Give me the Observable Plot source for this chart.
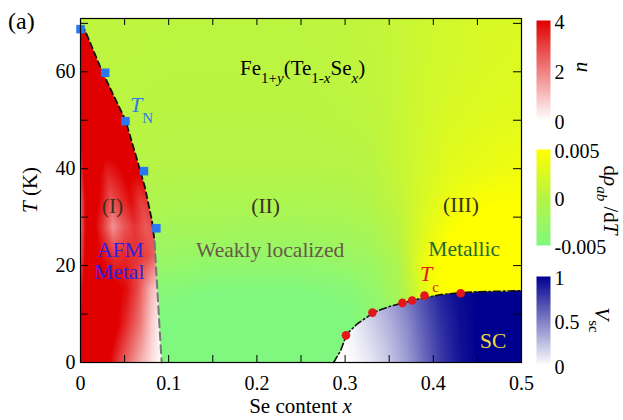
<!DOCTYPE html>
<html>
<head>
<meta charset="utf-8">
<script src="https://cdn.jsdelivr.net/npm/d3@7"></script>
<script src="https://cdn.jsdelivr.net/npm/@observablehq/plot@0.6"></script>
<style>
  html, body { margin: 0; padding: 0; background: #fff; }
  #chart { position: relative; width: 623px; height: 420px; }
  #chart svg { position: absolute; overflow: visible; }
</style>
</head>
<body>
<div id="chart"></div>
<script>
const FONT = '"Liberation Serif", "Times New Roman", serif';

// Measured Néel temperatures T_N (squares) and superconducting T_c (circles)
const tnX = [0, 0.028, 0.051, 0.072, 0.086];
const tnT = [68.8, 59.8, 49.8, 39.5, 27.7];
const tcX = [0.301, 0.331, 0.365, 0.376, 0.390, 0.431];
const tcT = [5.6, 10.3, 12.3, 12.8, 13.8, 14.3];

// AFM phase boundary (dashed) and SC phase boundary (dash-dot)
const afmLineX = [0, 0.005, 0.024, 0.051, 0.062, 0.073, 0.081, 0.084, 0.0855, 0.088, 0.092];
const afmLineT = [69.5, 68.6, 60.3, 50, 43.2, 36.2, 29.3, 25, 20, 12.2, 0];
const scLineX = [0.287, 0.295, 0.302, 0.314, 0.333, 0.351, 0.378, 0.408, 0.438, 0.47, 0.5];
const scLineT = [0, 2.5, 5.9, 8, 10.4, 11.6, 12.9, 14, 14.5, 14.7, 14.8];

// u inside the AFM phase, sampled on f = x / x_N(T)
const uF = [0, 0.06, 0.15, 0.3, 0.45, 0.6, 0.75, 0.9, 1];
const uT = [0, 8, 15, 22, 28, 33, 40, 46, 70];
const uGrid = [
  [4, 4, 4.5, 4.5, 3.2, 2.2, 1.2, 0.4, 0],
  [4, 4.5, 5, 5, 4.2, 3.2, 2.2, 0.8, 0.2],
  [3.5, 4.5, 5, 4.6, 4.2, 3.8, 2.8, 1.3, 0.6],
  [2.6, 4, 4.5, 3.8, 3.2, 3.4, 3.2, 2.9, 2.4],
  [2.2, 3.8, 4.5, 3.2, 1.7, 2.6, 3.2, 2.6, 2.8],
  [2.2, 3.8, 4.5, 3.8, 2.6, 3.2, 3.8, 3, 3.2],
  [3, 4.2, 4.5, 4.2, 3.6, 3.8, 4.2, 4.2, 4.2],
  [4, 5, 5, 5, 4.6, 4.6, 4.6, 4.6, 4.6],
  [5, 5, 5, 5, 5, 5, 5, 5, 5]
];

// dρab/dT in the paramagnetic normal state
const rX = [0, 0.05, 0.1, 0.15, 0.2, 0.25, 0.3, 0.33, 0.36, 0.39, 0.42, 0.46, 0.5];
const rT = [0, 8, 14, 20, 26, 32, 40, 50, 60, 71];
const rGrid = [
  [-0.005, -0.005, -0.005, -0.005, -0.005, -0.005, -0.005, -0.005, -0.005, -0.005, -0.005, -0.005, -0.005],
  [-0.005, -0.005, -0.005, -0.005, -0.005, -0.005, -0.005, -0.004, -0.003, 0, 0.003, 0.005, 0.005],
  [-0.0045, -0.0045, -0.0045, -0.005, -0.005, -0.005, -0.0045, -0.0035, -0.0015, 0.003, 0.0055, 0.006, 0.006],
  [-0.003, -0.003, -0.003, -0.0035, -0.0035, -0.0035, -0.003, -0.0025, -0.001, 0.004, 0.006, 0.006, 0.006],
  [-0.002, -0.002, -0.002, -0.002, -0.0022, -0.0022, -0.002, -0.0015, 0, 0.003, 0.005, 0.006, 0.006],
  [-0.001, -0.001, -0.001, -0.0012, -0.0012, -0.0012, -0.001, -0.0005, 0.0005, 0.0025, 0.004, 0.005, 0.005],
  [0, 0, -0.0003, -0.0003, -0.0003, -0.0003, -0.0002, 0, 0.001, 0.002, 0.003, 0.0035, 0.004],
  [0.0002, 0.0002, 0, 0, 0, 0, 0.0002, 0.0004, 0.001, 0.0018, 0.0024, 0.0028, 0.003],
  [0.0003, 0.0003, 0.0002, 0.0002, 0.0002, 0.0002, 0.0004, 0.0006, 0.001, 0.0016, 0.002, 0.0024, 0.0026],
  [0.0004, 0.0004, 0.0003, 0.0003, 0.0003, 0.0003, 0.0005, 0.0007, 0.001, 0.0015, 0.0019, 0.0022, 0.0024]
];

// Vsc inside the superconducting dome
const vX = [0.28, 0.3, 0.31, 0.33, 0.35, 0.37, 0.39, 0.41, 0.43, 0.45, 0.5];
const vT = [0, 8, 15];
const vGrid = [
  [0, 0, 0.02, 0.1, 0.22, 0.38, 0.58, 0.78, 0.92, 1, 1],
  [0, 0.02, 0.06, 0.18, 0.3, 0.45, 0.65, 0.82, 0.94, 1, 1],
  [0.1, 0.15, 0.2, 0.3, 0.4, 0.55, 0.72, 0.88, 0.96, 1, 1]
];

// Tick values
const xTickLabels = [0, 0.1, 0.2, 0.3, 0.4, 0.5];
const xTickMarks = [0.05, 0.1, 0.15, 0.2, 0.25, 0.3, 0.35, 0.4, 0.45];
const yTickLabels = [0, 20, 40, 60];
const yTickMarks = [10, 20, 30, 40, 50, 60, 70];
const uTicks = [0, 2, 4];
const rTicks = [-0.005, 0, 0.005];
const vTicks = [0, 0.5, 1];

// Region labels
const regionText = ["(I)", "(II)", "(III)", "AFM", "Metal", "Weakly localized", "Metallic", "SC"];
const regionLayout = [
  {x: 0.0363, T: 32.2, color: "#3a3020"},
  {x: 0.2098, T: 32.2, color: "#3a3020"},
  {x: 0.4314, T: 32.4, color: "#3a3020"},
  {x: 0.045, T: 23.1, color: "#2a22e6"},
  {x: 0.044, T: 18.6, color: "#2a22e6"},
  {x: 0.215, T: 23.3, color: "#6b5848"},
  {x: 0.435, T: 23.5, color: "#1e6a36"},
  {x: 0.468, T: 4.5, color: "#f0dc3c"}
];

// Colour scales for the three quantities
const uColor = d3.scaleLinear([0, 4], ["#ffffff", "#e00000"]).clamp(true);
const rColor = d3.scaleLinear([-0.005, 0, 0.005], ["#80f880", "#b8f444", "#ffff00"]).clamp(true);
const vColor = d3.scaleLinear([0, 1], ["#ffffff", "#00008e"]).clamp(true);

function bilinear(xs, ys, grid, x, y) {
  const i = Math.max(0, Math.min(xs.length - 2, d3.bisectRight(xs, x) - 1));
  const j = Math.max(0, Math.min(ys.length - 2, d3.bisectRight(ys, y) - 1));
  const tx = Math.max(0, Math.min(1, (x - xs[i]) / (xs[i + 1] - xs[i])));
  const ty = Math.max(0, Math.min(1, (y - ys[j]) / (ys[j + 1] - ys[j])));
  const a = grid[j][i], b = grid[j][i + 1], c = grid[j + 1][i], d = grid[j + 1][i + 1];
  return (a * (1 - tx) + b * tx) * (1 - ty) + (c * (1 - tx) + d * tx) * ty;
}

const afmEdge = d3.scaleLinear(afmLineT, afmLineX);
const scEdge = d3.scaleLinear(scLineX, scLineT);

function fieldColor(x, T) {
  if (x >= scLineX[0] && T <= scEdge(x)) return vColor(bilinear(vX, vT, vGrid, x, T));
  if (T <= afmLineT[0]) {
    const edge = afmEdge(T);
    if (x <= edge) return uColor(bilinear(uF, uT, uGrid, x / edge, T));
  }
  return rColor(bilinear(rX, rT, rGrid, x, T));
}

const zip = (xs, ts) => xs.map((x, i) => ({x, T: ts[i]}));
const afmPts = zip(afmLineX, afmLineT);
const afmUpper = afmPts.filter(d => d.T >= 25);
const afmLower = afmPts.filter(d => d.T <= 25);
const scPts = zip(scLineX, scLineT);
const tnPts = zip(tnX, tnT);
const tcPts = zip(tcX, tcT);
const regions = regionText.map((label, i) => ({label, ...regionLayout[i]}));

const W = 623, H = 420, ML = 80, MR = 102, MT = 18, MB = 58;
const frameW = W - ML - MR, frameH = H - MT - MB;

const main = Plot.plot({
  width: W, height: H,
  marginLeft: ML, marginRight: MR, marginTop: MT, marginBottom: MB,
  x: {domain: [0, 0.5]},
  y: {domain: [0, 71]},
  color: {type: "identity"},
  style: {fontFamily: FONT, fontSize: "20px", color: "black", background: "transparent", overflow: "visible"},
  marks: [
    Plot.raster({x1: 0, x2: 0.5, y1: 0, y2: 71, fill: fieldColor, pixelSize: 1}),
    Plot.line(afmUpper, {x: "x", y: "T", stroke: "#111", strokeWidth: 1.8, strokeDasharray: "6,4"}),
    Plot.line(afmLower, {x: "x", y: "T", stroke: "#777", strokeWidth: 2, strokeDasharray: "8,5"}),
    Plot.line(scPts, {x: "x", y: "T", stroke: "#111", strokeWidth: 1.6, strokeDasharray: "7,3,1.5,3"}),
    Plot.dot(tnPts, {x: "x", y: "T", symbol: "square", r: 4.8, fill: "#2778f2"}),
    Plot.dot(tcPts, {x: "x", y: "T", r: 4.3, fill: "#e3161b"}),
    Plot.tickX(xTickMarks, {x: d => d, insetTop: frameH - 7, stroke: "black"}),
    Plot.tickX(xTickMarks, {x: d => d, insetBottom: frameH - 7, stroke: "black"}),
    Plot.tickY(yTickMarks, {y: d => d, insetRight: frameW - 8, stroke: "black"}),
    Plot.tickY(yTickMarks, {y: d => d, insetLeft: frameW - 8, stroke: "black"}),
    Plot.frame({stroke: "black", strokeWidth: 1.2}),
    Plot.axisX({ticks: xTickLabels, tickSize: 0, tickPadding: 13, tickFormat: d => String(d), label: null, fontSize: 20}),
    Plot.axisY({ticks: yTickLabels, tickSize: 0, tickPadding: 5, tickFormat: d => String(d), label: null, fontSize: 20}),
    Plot.text(regions, {x: "x", y: "T", text: "label", fill: "color", fontSize: 21.5})
  ]
});

// Text with italic parts and subscripts
function richText(svg, {x, y, anchor = "start", size, subSize, shift, fill = "black", rotate = 0, parts}) {
  const t = d3.select(svg).append("text")
    .attr("transform", `translate(${x},${y}) rotate(${rotate})`)
    .attr("text-anchor", anchor)
    .attr("font-family", FONT)
    .attr("font-size", size)
    .attr("fill", fill);
  let cur = 0;
  for (const p of parts) {
    const target = p.sub ? shift : 0;
    t.append("tspan")
      .attr("dy", target - cur)
      .attr("font-size", p.sub ? subSize : size)
      .attr("font-style", p.it ? "italic" : "normal")
      .text(p.t);
    cur = target;
  }
}

const sx = main.scale("x"), sy = main.scale("y");
const px = v => sx.apply(v), py = v => sy.apply(v);

richText(main, {x: px(0.1814), y: py(59.2), size: 21, subSize: 15, shift: 8, parts: [
  {t: "Fe"}, {t: "1+", sub: true}, {t: "y", sub: true, it: true}, {t: "(Te"},
  {t: "1-", sub: true}, {t: "x", sub: true, it: true}, {t: "Se"}, {t: "x", sub: true, it: true}, {t: ")"}
]});
richText(main, {x: px(0.0567), y: py(51.6), size: 22, subSize: 15, shift: 11, fill: "#2f7be6", parts: [
  {t: "T", it: true}, {t: "N", sub: true}
]});
richText(main, {x: px(0.3855), y: py(16.7), size: 22, subSize: 15, shift: 11, fill: "#e3161b", parts: [
  {t: "T", it: true}, {t: "c", sub: true}
]});
richText(main, {x: (px(0) + px(0.5)) / 2, y: H - 7, anchor: "middle", size: 21, parts: [
  {t: "Se content "}, {t: "x", it: true}
]});
richText(main, {x: 37, y: MT + frameH / 2, anchor: "middle", size: 21, rotate: -90, parts: [
  {t: "T", it: true}, {t: " (K)"}
]});
richText(main, {x: 8, y: 28.5, size: 24, parts: [{t: "(a)"}]});

const chart = document.getElementById("chart");
main.style.left = "0px";
main.style.top = "0px";
chart.appendChild(main);

// Colour bars at the right
const BAR_LEFT = 536, BAR_W = 14, PAD = 12;
function colorbar({barTop, barBottom, domain, ticks, color, title}) {
  const bar = Plot.plot({
    width: W - BAR_LEFT, height: barBottom - barTop + 2 * PAD,
    marginLeft: 0, marginRight: W - BAR_LEFT - BAR_W, marginTop: PAD, marginBottom: PAD,
    x: {domain: [0, 1], axis: null},
    y: {domain},
    color: {type: "identity"},
    style: {fontFamily: FONT, fontSize: "20px", color: "black", background: "transparent", overflow: "visible"},
    marks: [
      Plot.raster({x1: 0, x2: 1, y1: domain[0], y2: domain[1], fill: (x, y) => color(y), pixelSize: 1}),
      Plot.axisY({anchor: "right", ticks, tickSize: 0, tickPadding: 4, tickFormat: d => String(d), label: null, fontSize: 20, dy: 2})
    ]
  });
  const top = barTop - PAD;
  bar.style.left = BAR_LEFT + "px";
  bar.style.top = top + "px";
  richText(bar, {...title, x: title.x - BAR_LEFT, y: title.y - top, anchor: "middle", rotate: 90});
  chart.appendChild(bar);
}

colorbar({barTop: 20, barBottom: 120, domain: [0, 4], ticks: uTicks, color: uColor,
  title: {x: 577, y: 67, size: 21, parts: [{t: "u", it: true}]}});
colorbar({barTop: 149, barBottom: 245, domain: [-0.005, 0.005], ticks: rTicks, color: rColor,
  title: {x: 604, y: 200, size: 21, subSize: 15, shift: 7, parts: [
    {t: "d"}, {t: "ρ", it: true}, {t: "ab", sub: true, it: true}, {t: " /d"}, {t: "T", it: true}
  ]}});
colorbar({barTop: 276, barBottom: 365, domain: [0, 1], ticks: vTicks, color: vColor,
  title: {x: 595, y: 320, size: 21, subSize: 15, shift: 6, parts: [
    {t: "V", it: true}, {t: "sc", sub: true}
  ]}});
</script>
</body>
</html>
